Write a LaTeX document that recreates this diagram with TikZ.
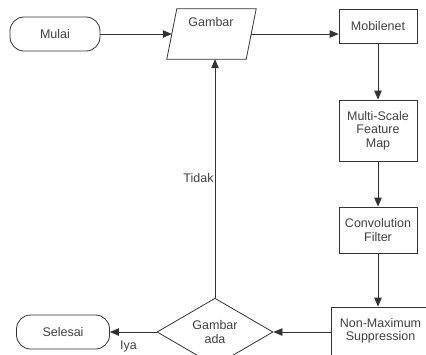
\documentclass[tikz,border=0pt]{standalone}
\usepackage{fontspec}
\setmainfont{Liberation Sans}
\usetikzlibrary{arrows.meta,shapes.geometric}
\definecolor{ln}{HTML}{333333}
\definecolor{tx}{HTML}{404040}
\begin{document}
\begin{tikzpicture}[x=1pt,y=-1pt,
  every node/.style={font=\fontsize{12.5}{13.3}\selectfont, text=tx},
  base/.style={draw=ln, line width=0.8pt, inner sep=0pt, align=center},
  term/.style={base, rectangle, rounded corners=14pt, minimum height=34pt},
  proc/.style={base, rectangle, minimum width=78pt},
  io/.style={rectangle, inner sep=0pt, minimum width=79pt, minimum height=50pt},
  dec/.style={base, diamond, minimum width=116pt, minimum height=52pt},
  conn/.style={draw=ln, line width=0.8pt, -{Triangle[length=9pt,width=7.5pt]}},
  lbl/.style={font=\fontsize{12.5}{13.3}\selectfont, text=tx, inner sep=1pt}
]
\useasboundingbox (0,0) rectangle (426,354);
\node[term, minimum width=90pt] (mulai) at (55,34) {Mulai};
\node[io] (gambar) at (211.5,34) {};
\draw[draw=ln, line width=0.8pt] ([xshift=-5pt]gambar.south west) -- ([xshift=5pt]gambar.north west) -- ([xshift=5pt]gambar.north east) -- ([xshift=-5pt]gambar.south east) -- cycle;
\node[lbl] (gtxt) at (211,22) {Gambar};
\node[proc, minimum height=34pt] (mobile) at (378,26) {Mobilenet};
\node[proc, minimum height=61pt] (multi) at (378,130.5) {Multi-Scale\\Feature\\Map};
\node[proc, minimum height=46pt] (conv) at (378,230) {Convolution\\Filter};
\node[proc, minimum width=99pt, minimum height=48pt] (nms) at (380.5,331) {Non-Maximum\\Suppression};
\node[dec] (dia) at (215,332) {Gambar\\ada};
\node[term, minimum width=93pt] (selesai) at (63,332) {Selesai};

\draw[conn] (mulai) -- (gambar);
\draw[conn] (gambar.east) -- (gambar.east -| mobile.west);
\draw[conn] (mobile) -- (multi);
\draw[conn] (multi.south) -- (multi.south |- conv.north);
\draw[conn] (conv.south) -- (conv.south |- nms.north);
\draw[conn] (nms.west |- dia.east) -- (dia.east);
\draw[conn] (dia.west) -- node[lbl, pos=0.6, below=7pt] {Iya} (selesai.east);
\draw[conn] (dia.north) -- node[lbl, pos=0.5, anchor=east] {Tidak} (dia.north |- gambar.south);
\end{tikzpicture}
\end{document}
